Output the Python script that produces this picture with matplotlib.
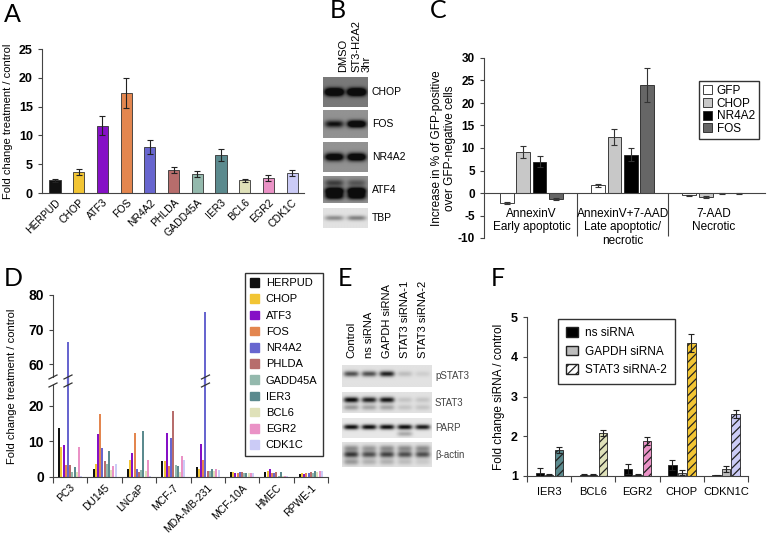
import numpy as np
import matplotlib
matplotlib.use('Agg')
import matplotlib.pyplot as plt
from matplotlib.patches import Patch
from matplotlib.lines import Line2D
from matplotlib import font_manager

#fonts
names = {f.name for f in font_manager.fontManager.ttflist}
fam = 'Liberation Sans Narrow' if 'Liberation Sans Narrow' in names else 'Liberation Sans'
plt.rcParams['font.family'] = [fam, 'DejaVu Sans']
plt.rcParams['axes.unicode_minus'] = False
plt.rcParams['hatch.linewidth'] = 0.9

#Panel A data
genes_a = ['HERPUD', 'CHOP', 'ATF3', 'FOS', 'NR4A2', 'PHLDA', 'GADD45A', 'IER3', 'BCL6', 'EGR2', 'CDK1C']
a_mean = [2.2, 3.6, 11.7, 17.4, 8.0, 4.0, 3.3, 6.6, 2.2, 2.6, 3.5]
a_err = [0.3, 0.5, 1.7, 2.6, 1.2, 0.6, 0.5, 1.0, 0.3, 0.5, 0.5]
gene_colors = ['#111111', '#f2c534', '#8510c6', '#e3864f', '#6866cf', '#b76d6c',
               '#94b9ad', '#5b8a8e', '#dfe1b9', '#ea92c6', '#cbcbf6']

#Panel B blot
b_lanes = ['DMSO', 'ST3-H2A2\n3hr']
b_rows = ['CHOP', 'FOS', 'NR4A2', 'ATF4', 'TBP']
b_bg = [0.55, 0.45, 0.45, 0.45, 0.12]
b_bands = [[(0.5, [1.0, 1.0])],
           [(0.5, [0.55, 0.95])],
           [(0.5, [0.85, 0.95])],
           [(0.25, [0.35, 0.25]), (0.55, [0.9, 0.9]), (0.75, [0.7, 0.7])],
           [(0.5, [0.35, 0.4])]]

#Panel C data
c_groups = ['AnnexinV\nEarly apoptotic', 'AnnexinV+7-AAD\nLate apoptotic/\nnecrotic', '7-AAD\nNecrotic']
c_series = ['GFP', 'CHOP', 'NR4A2', 'FOS']
c_mean = [[-2.3, 1.7, -0.5],
          [9.1, 12.4, -0.9],
          [7.0, 8.5, -0.1],
          [-1.3, 24.0, -0.1]]
c_err = [[0.2, 0.3, 0.1],
         [1.4, 1.8, 0.2],
         [1.2, 1.4, 0.05],
         [0.3, 3.8, 0.05]]
c_colors = ['white', '#c8c8c8', '#000000', '#666666']

#Panel D data (rows = cell lines, columns = genes_a order)
d_lines = ['PC3', 'DU145', 'LNCaP', 'MCF-7', 'MDA-MB-231', 'MCF-10A', 'HMEC', 'RPWE-1']
d_values = [[13.7, 8.5, 9.0, 3.5, 66.5, 3.5, 1.3, 2.7, 1.3, 8.5, 0.3],
            [2.3, 3.6, 12.0, 17.7, 8.1, 4.5, 3.6, 7.2, 2.0, 3.2, 3.6],
            [2.3, 4.8, 6.8, 12.4, 2.2, 1.4, 2.0, 12.8, 1.6, 4.9, 0.4],
            [4.5, 4.5, 12.3, 3.0, 11.0, 18.5, 3.3, 3.2, 1.5, 5.8, 4.8],
            [2.7, 2.3, 9.3, 4.9, 75.0, 1.8, 1.8, 2.3, 1.8, 2.2, 1.9],
            [1.4, 1.3, 1.0, 1.2, 1.3, 1.3, 1.0, 1.0, 1.0, 1.1, 1.0],
            [1.4, 1.6, 2.2, 1.0, 1.0, 1.3, 0.2, 1.5, 0.3, 0.3, 0.2],
            [0.8, 1.0, 0.9, 1.2, 1.0, 1.3, 1.2, 1.6, 1.5, 1.8, 1.8]]

#Panel E blot
e_lanes = ['Control', 'ns siRNA', 'GAPDH siRNA', 'STAT3 siRNA-1', 'STAT3 siRNA-2']
e_rows = ['pSTAT3', 'STAT3', 'PARP', 'β-actin']
e_bg = [0.12, 0.12, 0.1, 0.12]
e_bands = [[(0.4, [0.6, 0.6, 0.8, 0.15, 0.08])],
           [(0.4, [0.9, 0.8, 0.85, 0.12, 0.12]), (0.75, [0.3, 0.25, 0.25, 0.12, 0.12])],
           [(0.45, [0.9, 0.9, 0.9, 0.9, 0.85]), (0.8, [0.0, 0.0, 0.0, 0.25, 0.0])],
           [(0.25, [0.35, 0.3, 0.35, 0.35, 0.35]), (0.5, [0.7, 0.6, 0.65, 0.6, 0.6]), (0.8, [0.3, 0.2, 0.2, 0.15, 0.1])]]

#Panel F data
f_genes = ['IER3', 'BCL6', 'EGR2', 'CHOP', 'CDKN1C']
f_series = ['ns siRNA', 'GAPDH siRNA', 'STAT3 siRNA-2']
f_ns = [1.08, 1.03, 1.18, 1.28, 1.02]
f_ns_err = [0.12, 0.01, 0.13, 0.13, 0.01]
f_gapdh = [1.03, 1.03, 1.03, 1.08, 1.18]
f_gapdh_err = [0.01, 0.01, 0.01, 0.06, 0.07]
f_stat3 = [1.65, 2.08, 1.87, 4.35, 2.56]
f_stat3_err = [0.08, 0.08, 0.1, 0.22, 0.11]
f_colors = ['#5b8a8e', '#dfe1b9', '#ea92c6', '#f2c534', '#cbcbf6']

W, H = 768, 536
fig = plt.figure(figsize=(W/100, H/100), dpi=100)
fig.patch.set_facecolor('white')

def px_axes(x0, y0, x1, y1):
    return fig.add_axes([x0/W, 1-y1/H, (x1-x0)/W, (y1-y0)/H])

def style(ax, fs=8.5):
    for s in ['top', 'right']:
        ax.spines[s].set_visible(False)
    for s in ['left', 'bottom']:
        ax.spines[s].set_color('#444444')
        ax.spines[s].set_linewidth(0.8)
    ax.tick_params(colors='#444444', labelcolor='black', width=0.8, length=3, labelsize=fs)

def bold_y(ax):
    for tl in ax.get_yticklabels():
        tl.set_fontweight('bold')

def letter(x, y, t):
    fig.text(x/W, 1-y/H, t, fontsize=18, family=['Lato', 'DejaVu Sans'], va='center', ha='left', color='black')

def blot(x0, x1, rows_y, bgs, bands, n):
    for (y0, y1), bg, bl in zip(rows_y, bgs, bands):
        ax = px_axes(x0, y0, x1, y1)
        xx, yy = np.meshgrid(np.linspace(0, n, 120), np.linspace(0, 1, 40))
        img = np.full(xx.shape, bg)
        for yc, vals in bl:
            for i, v in enumerate(vals):
                img += v*np.exp(-((xx-(i+0.5))/0.42)**4)*np.exp(-((yy-yc)/0.13)**2)
        img = np.clip(img, 0, 1)
        ax.imshow(img, cmap='gray_r', vmin=0, vmax=1.05, aspect='auto', extent=[0, n, 1, 0])
        ax.set_xticks([]); ax.set_yticks([])
        for s in ax.spines.values():
            s.set_visible(False)

# ---------- A ----------
letter(4, 15, 'A')
axA = px_axes(42, 49, 304, 193)
xa = np.arange(len(genes_a))
axA.bar(xa, a_mean, width=0.47, color=gene_colors, edgecolor='#333333', linewidth=0.6,
        yerr=a_err, error_kw=dict(ecolor='#222222', elinewidth=0.8, capsize=2.5, capthick=0.8))
axA.set_xlim(-0.55, 10.5)
axA.set_ylim(0, 25)
style(axA, 9)
axA.set_yticks(range(0, 26, 5))
axA.set_xticks(xa)
axA.set_xticklabels(genes_a, rotation=45, ha='right', rotation_mode='anchor', fontsize=7.5)
axA.tick_params(axis='x', length=0, pad=3)
bold_y(axA)
axA.set_ylabel('Fold change treatment / control', fontsize=8, labelpad=4)

# ---------- B ----------
letter(330, 10, 'B')
b_rows_y = [(77, 107), (110, 138), (142, 172), (176, 203), (208, 228)]
blot(323, 368, b_rows_y, b_bg, b_bands, len(b_lanes))
fig.text(343/W, 1-72/H, b_lanes[0], rotation=90, ha='center', va='bottom', fontsize=8)
fig.text(356/W, 1-72/H, b_lanes[1].split('\n')[0], rotation=90, ha='center', va='bottom', fontsize=8)
fig.text(367/W, 1-72/H, b_lanes[1].split('\n')[1], rotation=90, ha='center', va='bottom', fontsize=8)
for (y0, y1), r in zip(b_rows_y, b_rows):
    fig.text(372/W, 1-(y0+y1)/2/H, r, ha='left', va='center', fontsize=7.5)

# ---------- C ----------
letter(430, 10, 'C')
axC = px_axes(484, 58, 765, 238)
xc = np.arange(len(c_groups))
offs = [-0.27, -0.09, 0.09, 0.27]
for k in range(4):
    axC.bar(xc+offs[k], c_mean[k], width=0.15, color=c_colors[k], edgecolor='#222222', linewidth=0.6,
            yerr=c_err[k], error_kw=dict(ecolor='#333333', elinewidth=0.8, capsize=2.5, capthick=0.8),
            label=c_series[k])
axC.set_xlim(-0.52, 2.56)
axC.set_ylim(-10, 30)
style(axC, 8.5)
axC.spines['bottom'].set_position(('data', 0))
axC.set_xticks([])
axC.set_yticks(range(-10, 31, 5))
bold_y(axC)
axC.vlines([0.5, 1.5], -9.5, 0, color='#444444', lw=0.8)
for i, g in enumerate(c_groups):
    axC.text(i, -3.3, g, ha='center', va='top', fontsize=8.5, linespacing=1.15)
axC.set_ylabel('Increase in % of GFP-positive\nover GFP-negative cells', fontsize=8.5, labelpad=1, linespacing=1.1)
axC.legend(loc='upper right', bbox_to_anchor=(765/W, 1-75/H), bbox_transform=fig.transFigure,
           fontsize=8.5, handlelength=0.8, handleheight=0.8, handletextpad=0.4, labelspacing=0.05,
           borderpad=0.35, fancybox=False, edgecolor='#333333', framealpha=1)

# ---------- D ----------
letter(4, 278, 'D')
axU = px_axes(53, 295, 328, 377)
axL = px_axes(53, 385, 328, 477)
vals = np.array(d_values)
for j in range(len(genes_a)):
    xd = np.arange(len(d_lines)) + 0.18 + j*0.064
    for ax in (axU, axL):
        ax.bar(xd, vals[:, j], width=0.058, color=gene_colors[j], linewidth=0, label=genes_a[j])
axU.set_ylim(56.3, 80)
axL.set_ylim(0, 25.8)
for ax in (axU, axL):
    ax.set_xlim(0, 8)
    style(ax, 10)
axU.spines['bottom'].set_visible(False)
axU.set_xticks([])
axU.set_yticks([60, 70, 80])
axL.set_yticks([0, 10, 20])
axL.set_xticks(range(0, 9))
axL.set_xticklabels([])
axL.tick_params(axis='x', length=4)
axL.set_xticks(np.arange(len(d_lines)) + 0.5, minor=True)
axL.set_xticklabels(d_lines, minor=True, rotation=45, ha='right', rotation_mode='anchor', fontsize=7.5)
axL.tick_params(axis='x', which='minor', length=0, pad=4)
bold_y(axU)
bold_y(axL)
fig.text(12/W, 1-386/H, 'Fold change treatment / control', rotation=90, ha='center', va='center', fontsize=8)
# bridge tall bars across the axis break, then break marks
inv = fig.transFigure.inverted()
tall = [i for i in range(len(d_lines)) if vals[i, 4] > 25.8]
for i in tall:
    bx = i + 0.18 + 4*0.064
    fx, fy0 = inv.transform(axL.transData.transform((bx, 25.8)))
    _, fy1 = inv.transform(axU.transData.transform((bx, 56.3)))
    fig.add_artist(Line2D([fx, fx], [fy0, fy1], color=gene_colors[4], lw=1.6))
brk_x = [0] + [i + 0.18 + 4*0.064 for i in tall]
for bx in brk_x:
    for ax, yv in ((axU, 56.3), (axL, 25.8)):
        fx, fy = inv.transform(ax.transData.transform((bx, yv)))
        fig.add_artist(Line2D([fx-4/W, fx+4/W], [fy-2/H, fy+2/H], color='#333333', lw=0.9))
handles = [Patch(color=c) for c in gene_colors]
fig.legend(handles, genes_a, loc='upper left', bbox_to_anchor=(239/W, 1-267/H),
           fontsize=8, handlelength=0.8, handleheight=0.8, handletextpad=0.6, labelspacing=0.55,
           borderpad=0.5, fancybox=False, edgecolor='#333333', framealpha=1)

# ---------- E ----------
letter(338, 278, 'E')
e_rows_y = [(365, 387), (392, 413), (418, 438), (442, 467)]
blot(342, 432, e_rows_y, e_bg, e_bands, len(e_lanes))
lane_w = (432-342)/len(e_lanes)
for i, l in enumerate(e_lanes):
    fig.text((342 + lane_w*(i+0.5))/W, 1-358/H, l, rotation=90, ha='center', va='bottom', fontsize=8)
for (y0, y1), r in zip(e_rows_y, e_rows):
    fig.text(435/W, 1-(y0+y1)/2/H, r, ha='left', va='center', fontsize=7, color='#444444')

# ---------- F ----------
letter(491, 278, 'F')
axF = px_axes(527, 317, 748, 476)
xf = np.arange(len(f_genes)) + 0.5
ekw = dict(ecolor='#222222', elinewidth=0.8, capsize=2.5, capthick=0.8)
axF.bar(xf-0.21, np.array(f_ns)-1, bottom=1, width=0.19, color='black', edgecolor='#222222', lw=0.6,
        yerr=f_ns_err, error_kw=ekw)
axF.bar(xf, np.array(f_gapdh)-1, bottom=1, width=0.19, color='#bdbdbd', edgecolor='#222222', lw=0.6,
        yerr=f_gapdh_err, error_kw=ekw)
axF.bar(xf+0.22, np.array(f_stat3)-1, bottom=1, width=0.19, color=f_colors, edgecolor='#222222', lw=0.6,
        hatch='////', yerr=f_stat3_err, error_kw=ekw)
axF.set_xlim(0, 5)
axF.set_ylim(1, 5)
style(axF, 9)
axF.set_yticks([1, 2, 3, 4, 5])
axF.set_xticks(range(0, 6))
axF.set_xticklabels([])
axF.tick_params(axis='x', length=4)
axF.set_xticks(xf, minor=True)
axF.set_xticklabels(f_genes, minor=True, fontsize=8)
axF.tick_params(axis='x', which='minor', length=0, pad=8)
bold_y(axF)
axF.set_ylabel('Fold change siRNA / control', fontsize=8.5, labelpad=4)
fh = [Patch(facecolor='black', edgecolor='#222222'),
      Patch(facecolor='#bdbdbd', edgecolor='#222222'),
      Patch(facecolor='white', edgecolor='#222222', hatch='////')]
axF.legend(fh, f_series, loc='upper left', bbox_to_anchor=(552/W, 1-313/H), bbox_transform=fig.transFigure,
           fontsize=8.5, handlelength=1.0, handleheight=0.9, handletextpad=0.6, labelspacing=0.55,
           borderpad=0.7, fancybox=False, edgecolor='#333333', framealpha=1)

plt.savefig('out.png', dpi=100)
